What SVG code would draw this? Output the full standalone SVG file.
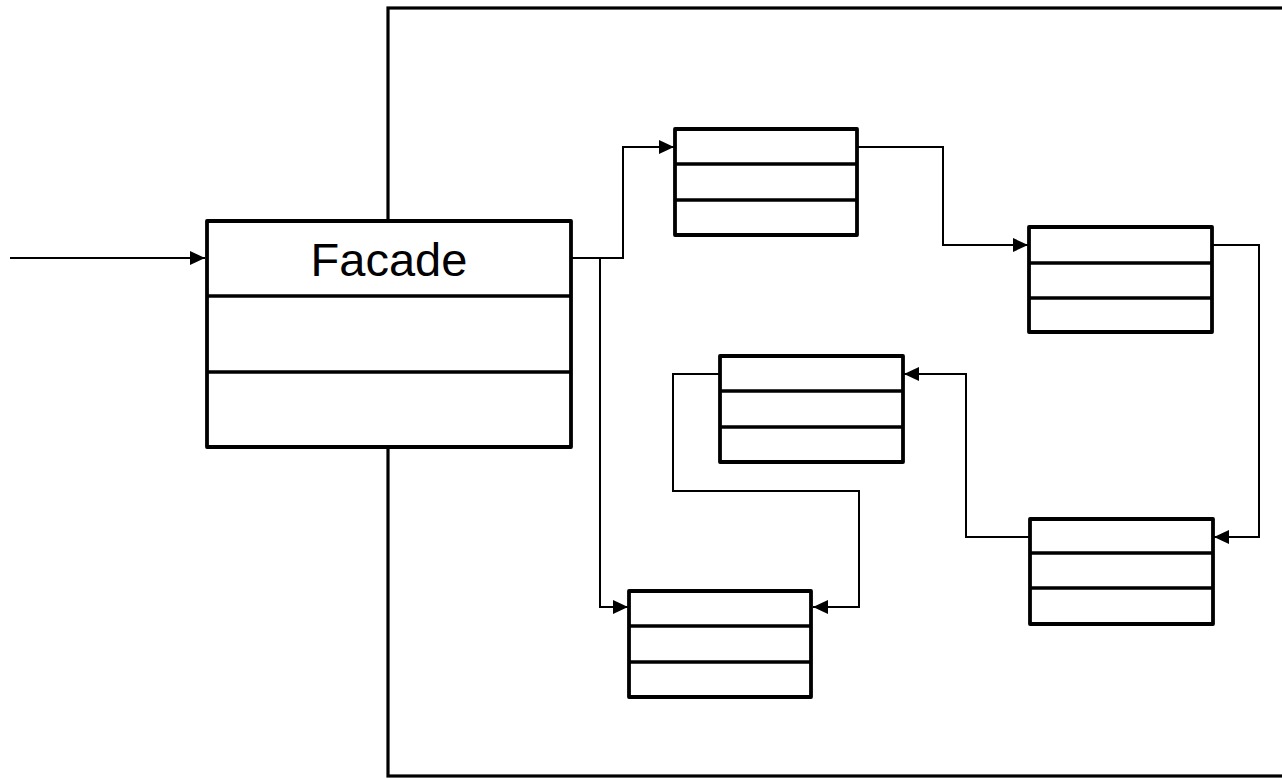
<svg xmlns="http://www.w3.org/2000/svg" width="1282" height="779" viewBox="0 0 1282 779">
<style>
.frame{fill:none;stroke:#000;stroke-width:3.2}
.box{fill:#fff;stroke:#000;stroke-width:3.8;stroke-linejoin:round}
.div{stroke:#000;stroke-width:3.6}
.fbox{fill:#fff;stroke:#000;stroke-width:3.8;stroke-linejoin:round}
.conn{fill:none;stroke:#000;stroke-width:2;marker-end:url(#arr)}
.lbl{font-family:"Liberation Sans",Arial,sans-serif;font-size:47px;fill:#000}
</style>
<defs>
<marker id="arr" markerWidth="15" markerHeight="14" refX="15" refY="7" orient="auto" markerUnits="userSpaceOnUse">
<path d="M0,0 L15,7 L0,14 Z" fill="#000"/>
</marker>
</defs>
<rect width="1282" height="779" fill="#fff"/>
<g id="frame">
<rect class="frame" x="388" y="8" width="1000" height="768"/>
</g>
<g id="connectors">
<path class="conn" d="M10,258 H205"/>
<path class="conn" d="M571,258 H623 V147 H674"/>
<path class="conn" d="M600,258 V607 H628"/>
<path class="conn" d="M857,147 H943 V245 H1028"/>
<path class="conn" d="M1212,245 H1259 V537 H1214"/>
<path class="conn" d="M1030,537 H966 V374 H904"/>
<path class="conn" d="M720,374 H673 V491 H859 V607 H813"/>
</g>
<g id="facade">
<rect class="fbox" x="207" y="221" width="364" height="226"/>
<line class="div" x1="207" y1="296" x2="571" y2="296"/>
<line class="div" x1="207" y1="372" x2="571" y2="372"/>
<text class="lbl" x="389" y="276" text-anchor="middle">Facade</text>
</g>
<g id="class1">
<rect class="box" x="675" y="129" width="182" height="106"/>
<line class="div" x1="675" y1="164" x2="857" y2="164"/>
<line class="div" x1="675" y1="200" x2="857" y2="200"/>
</g>
<g id="class2">
<rect class="box" x="1029" y="227" width="183" height="105"/>
<line class="div" x1="1029" y1="263" x2="1212" y2="263"/>
<line class="div" x1="1029" y1="298" x2="1212" y2="298"/>
</g>
<g id="class3">
<rect class="box" x="720" y="356" width="183" height="106"/>
<line class="div" x1="720" y1="391" x2="903" y2="391"/>
<line class="div" x1="720" y1="427" x2="903" y2="427"/>
</g>
<g id="class4">
<rect class="box" x="1030" y="519" width="183" height="105"/>
<line class="div" x1="1030" y1="553" x2="1213" y2="553"/>
<line class="div" x1="1030" y1="588" x2="1213" y2="588"/>
</g>
<g id="class5">
<rect class="box" x="629" y="591" width="182" height="106"/>
<line class="div" x1="629" y1="626" x2="811" y2="626"/>
<line class="div" x1="629" y1="662" x2="811" y2="662"/>
</g>
</svg>
